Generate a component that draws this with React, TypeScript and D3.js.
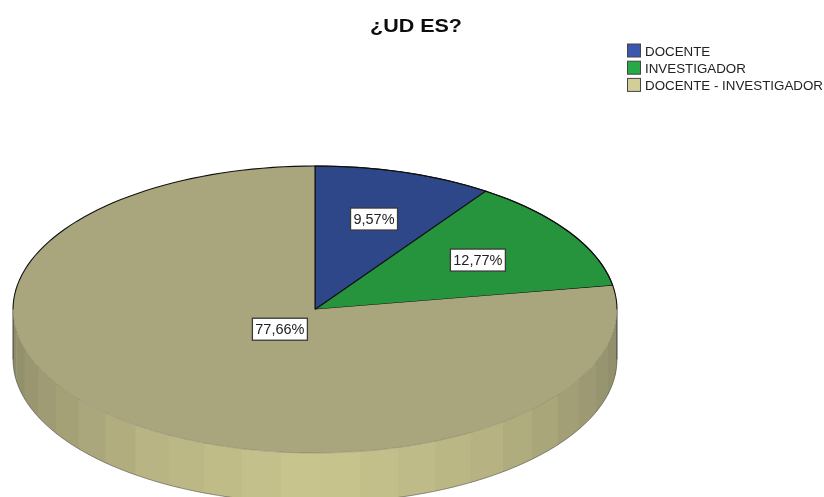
import React from "react";
import * as d3 from "d3";

const title = "¿UD ES?";
const categories = ["DOCENTE", "INVESTIGADOR", "DOCENTE - INVESTIGADOR"];
const percents = [9.57, 12.77, 77.66];
const percentLabels = ["9,57%", "12,77%", "77,66%"];
const topColors = ["#2F4689", "#26943C", "#A9A57C"];
const legendColors = ["#3A59AC", "#27A947", "#D2CE98"];
const labelRadiusShare = [0.66, 0.64, 0.18];

const shadeStops = [0, 30, 60, 85];
const shadeColors = ["#C9C58F", "#BAB684", "#A09D75", "#8E8C68"];

const W = 824, H = 497;
const cx = 315, cy = 309.5, rx = 302, ry = 143.5, depth = 50;
const FONT = "'Liberation Sans', Arial, sans-serif";

const pie = d3.pie<number>().sort(null).value((d) => d);
const arcs = pie(percents);
const arcGen = d3.arc<d3.PieArcDatum<number>>().innerRadius(0).outerRadius(rx);
const shade = d3.scaleLinear<string>().domain(shadeStops).range(shadeColors).clamp(true);

// angle measured from the bottom of the ellipse, positive to the right
const edge = (deg: number, dy: number): [number, number] => {
  const a = (deg * Math.PI) / 180;
  return [cx + rx * Math.sin(a), cy + ry * Math.cos(a) + dy];
};
const bandPath = (a0: number, a1: number) => {
  const steps = d3.range(a0, a1 + 0.001, (a1 - a0) / 8);
  const pts = [
    ...steps.map((d) => edge(d, 0)),
    ...steps.slice().reverse().map((d) => edge(d, depth)),
  ];
  return d3.line().curve(d3.curveLinearClosed)(pts) ?? "";
};
const bands = d3.range(-89, 90, 7.5).map((a) => {
  const a1 = Math.min(a + 7.5, 90);
  return { a0: a, a1, color: shade(Math.abs((a + a1) / 2)) };
});
const outerRim = d3.range(-90, 90.01, 2).map((d) => edge(d, depth));
const lowerRim = d3.range(-90, 90.01, 2).map((d) => edge(d, 0));
const upperRim = d3.range(90, 270.01, 2).map((d) => edge(d, 0));
const line = d3.line();

const Label = ({ x, y, text }: { x: number; y: number; text: string }) => {
  const w = text.length > 5 ? 55 : 47;
  return (
    <g>
      <rect x={x - w / 2} y={y - 11} width={w} height={22} fill="#fff" stroke="#3a3a3a" strokeWidth={1.3} />
      <text x={x} y={y + 5} textAnchor="middle" fontFamily={FONT} fontSize={14.5} fill="#222">{text}</text>
    </g>
  );
};

export default function App() {
  return (
    <svg width={W} height={H} viewBox={`0 0 ${W} ${H}`} style={{ position: "absolute", left: 0, top: 0, background: "#fff" }}>
      <defs>
        <filter id="soft" x="0" y="0" width="100%" height="100%">
          <feGaussianBlur stdDeviation="0.4" />
        </filter>
      </defs>
      <g filter="url(#soft)">
        <rect width={W} height={H} fill="#fff" />
        <text x={370} y={32.3} textLength={92} lengthAdjust="spacingAndGlyphs" fontFamily={FONT} fontWeight="bold" fontSize={19} fill="#111">{title}</text>

        {categories.map((c, i) => (
          <g key={c}>
            <rect x={627.5} y={44 + i * 17.2} width={13} height={13} fill={legendColors[i]} stroke="#444" strokeWidth={1} />
            <text x={645} y={55.5 + i * 17.2} fontFamily={FONT} fontSize={13.35} fill="#222">{c}</text>
          </g>
        ))}

        {bands.map((b) => (
          <path key={b.a0} d={bandPath(b.a0, Math.min(b.a1 + 0.6, 90))} fill={b.color} />
        ))}
        <path d={line(outerRim) ?? ""} fill="none" stroke="#333" strokeOpacity={0.6} strokeWidth={0.8} />
        <path d={`M${edge(-90, 0)}L${edge(-90, depth)}M${edge(90, 0)}L${edge(90, depth)}`} stroke="#333" strokeWidth={0.9} />

        <g transform={`translate(${cx},${cy}) scale(1,${ry / rx})`}>
          {arcs.map((a, i) => (
            <path key={i} d={arcGen(a) ?? ""} fill={topColors[i]} stroke={i === 2 ? "none" : "#111"} strokeWidth={1.1} vectorEffect="non-scaling-stroke" />
          ))}
        </g>
        <path d={line(lowerRim) ?? ""} fill="none" stroke="#4a4a3a" strokeOpacity={0.4} strokeWidth={0.7} />
        <path d={line(upperRim) ?? ""} fill="none" stroke="#111" strokeWidth={1.1} />
        <path d={`M${cx},${cy}L${cx},${cy - ry}`} stroke="#111" strokeWidth={1.1} />

        {arcs.map((a, i) => {
          const mid = (a.startAngle + a.endAngle) / 2;
          const x = cx + Math.sin(mid) * rx * labelRadiusShare[i];
          const y = cy - Math.cos(mid) * ry * labelRadiusShare[i];
          return <Label key={i} x={x} y={y} text={percentLabels[i]} />;
        })}
      </g>
    </svg>
  );
}
